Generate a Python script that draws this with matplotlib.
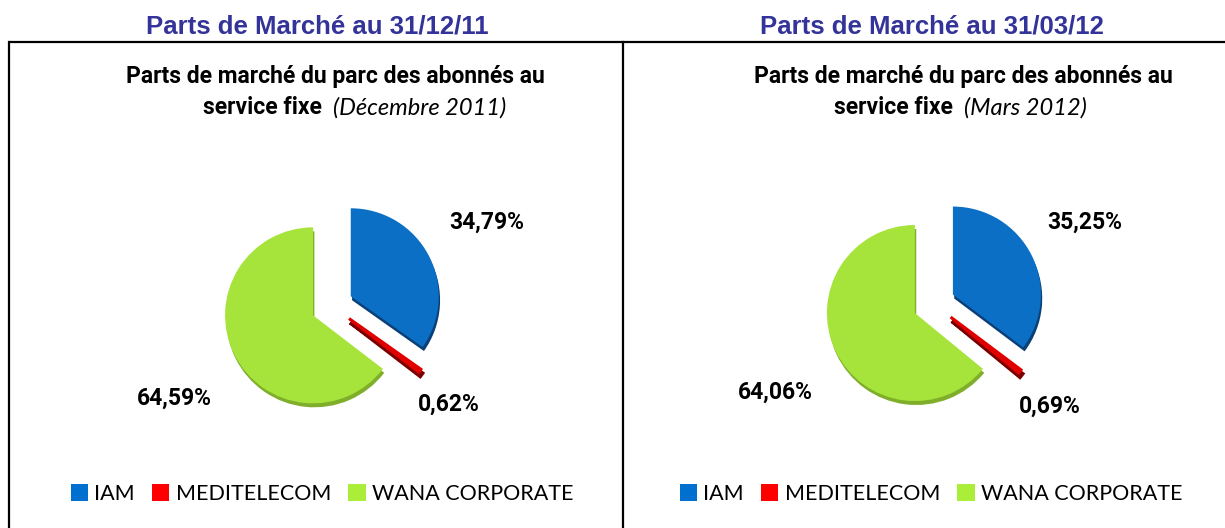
import matplotlib
matplotlib.use("Agg")
import matplotlib.pyplot as plt
from matplotlib.patches import Patch

# ---- data ----
categories = ["IAM", "MEDITELECOM", "WANA CORPORATE"]
share_dec2011 = [34.79, 0.62, 64.59]
share_mar2012 = [35.25, 0.69, 64.06]
headers = ["Parts de Marché au 31/12/11", "Parts de Marché au 31/03/12"]
title_line1 = "Parts de marché du parc des abonnés au"
title_bold2 = "service fixe"
periods = ["(Décembre 2011)", "(Mars 2012)"]

colors = ["#0A6FC5", "#E00000", "#A6E43C"]
shadow_colors = ["#0A3F78", "#7A0000", "#7FAE2A"]
legend_colors = ["#0070D0", "#FF0000", "#AAEE3A"]

W, H = 1225, 528
fig = plt.figure(figsize=(W / 100, H / 100), dpi=100)
fig.patch.set_facecolor("white")

ov = fig.add_axes([0, 0, 1, 1])
ov.set_xlim(0, W)
ov.set_ylim(H, 0)
ov.axis("off")

# panel borders
lw = 1.6
ov.plot([9, W + 5], [42, 42], color="black", lw=lw, solid_capstyle="butt")
ov.plot([9, 9], [42, H + 5], color="black", lw=lw)
ov.plot([623, 623], [42, H + 5], color="black", lw=lw)

boldfam = ["Roboto", "DejaVu Sans"]
calibri = ["Lato", "DejaVu Sans"]
arial = ["Liberation Sans", "DejaVu Sans"]

panels = [
    dict(values=share_dec2011, header=headers[0], period=periods[0],
         hx=317, t1x=335, splitx=322, cx=332, cy=306,
         labels=[(487, 222), (449, 404), (174, 398)], legx=322),
    dict(values=share_mar2012, header=headers[1], period=periods[1],
         hx=932, t1x=963, splitx=953, cx=934, cy=304,
         labels=[(1085, 222), (1050, 406), (775, 392)], legx=931),
]

R = 88  # pie radius in px
for p in panels:
    ov.text(p["hx"], 26, p["header"], ha="center", va="center",
            fontsize=18.5, fontweight="bold", color="#333399", family=arial)
    ov.text(p["t1x"], 76, title_line1, ha="center", va="center",
            fontsize=16.5, fontweight="bold", color="black", family=boldfam)
    ov.text(p["splitx"], 108, title_bold2, ha="right", va="center",
            fontsize=16.5, fontweight="bold", color="black", family=boldfam)
    ov.text(p["splitx"] + 11, 108, p["period"], ha="left", va="center",
            fontsize=17, fontstyle="italic", color="black", family=calibri)

    ext = 1.5
    ax = fig.add_axes([(p["cx"] - ext * R) / W, (H - p["cy"] - ext * R) / H,
                       2 * ext * R / W, 2 * ext * R / H])
    ax.axis("off")
    explode = [0.24, 0.24, 0.24]
    sh, _ = ax.pie(p["values"], colors=shadow_colors, explode=explode,
                   startangle=90, counterclock=False, radius=1.0,
                   center=(0.015, -0.045), wedgeprops=dict(linewidth=0))
    wd, _ = ax.pie(p["values"], colors=colors, explode=explode, startangle=90,
                   counterclock=False, radius=1.0, center=(0, 0),
                   wedgeprops=dict(linewidth=0))
    sh[1].set_edgecolor(shadow_colors[1]); sh[1].set_linewidth(3)
    wd[1].set_edgecolor(colors[1]); wd[1].set_linewidth(2.2)
    ax.set_xlim(-ext, ext)
    ax.set_ylim(-ext, ext)
    ax.set_aspect("auto")

    for v, (lx, ly) in zip(p["values"], p["labels"]):
        ov.text(lx, ly, f"{v:.2f}".replace(".", ",") + "%", ha="center",
                va="center", fontsize=16.5, fontweight="bold", color="black",
                family=boldfam)

    handles = [Patch(facecolor=c, edgecolor="none") for c in legend_colors]
    fig.legend(handles, categories, loc="center", ncol=3,
               bbox_to_anchor=(p["legx"] / W, 1 - 494 / H),
               frameon=False, handlelength=0.8, handleheight=0.8,
               handletextpad=0.3, columnspacing=0.8,
               prop=dict(family=calibri, size=15.5))

fig.savefig("out.png", dpi=100, facecolor="white")
